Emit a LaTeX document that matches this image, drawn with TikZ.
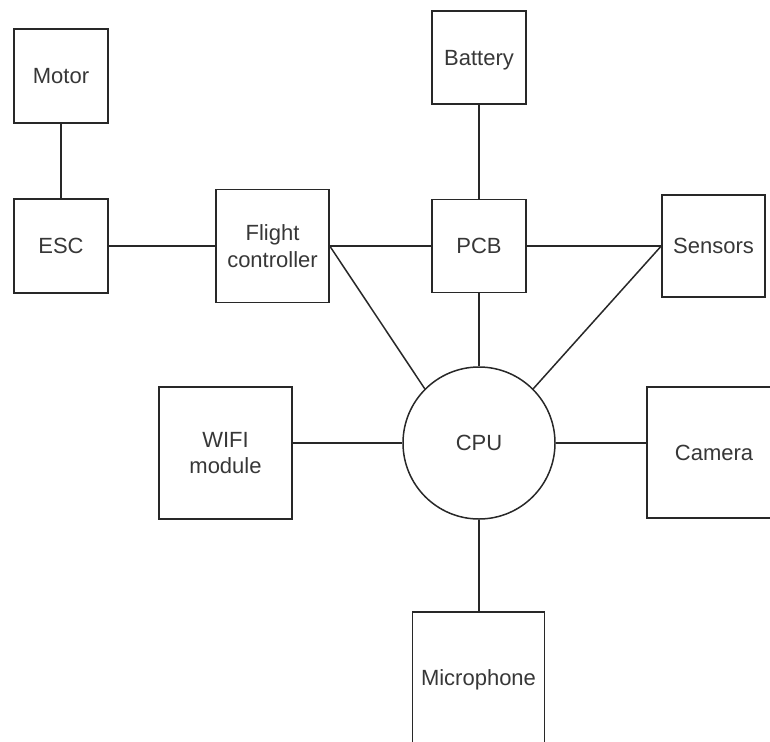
\documentclass[tikz,border=0pt]{standalone}
\usepackage{fontspec}
\setmainfont{Liberation Sans}
\definecolor{linecol}{RGB}{40,40,40}
\definecolor{textcol}{RGB}{55,55,55}
\tikzset{
  blk/.style={draw=linecol, line width=1.5pt, rectangle, inner sep=0pt, align=center,
    text=textcol, text depth=0pt, font=\fontsize{22}{26.4}\selectfont},
  cpu/.style={draw=linecol, line width=1.5pt, circle, inner sep=0pt, minimum size=152pt,
    text=textcol, font=\fontsize{22}{26.4}\selectfont},
  link/.style={draw=linecol, line width=1.5pt}
}
\begin{document}
\begin{tikzpicture}[x=1pt,y=-1pt]
\useasboundingbox (0,0) rectangle (770,741);
\clip (0,0) rectangle (770,741);
\node[blk, minimum width=94pt, minimum height=94pt] (motor) at (61,76) {Motor};
\node[blk, minimum width=94pt, minimum height=94pt] (esc) at (61,246) {ESC};
\node[blk, minimum width=113pt, minimum height=113pt] (fc) at (272.5,246) {Flight\\controller};
\node[blk, minimum width=94pt, minimum height=93pt] (battery) at (479,57.5) {Battery};
\node[blk, minimum width=94pt, minimum height=93pt] (pcb) at (479,246) {PCB};
\node[blk, minimum width=103pt, minimum height=102pt] (sensors) at (713.5,246) {Sensors};
\node[cpu] (cpu) at (479,443) {CPU};
\node[blk, minimum width=133pt, minimum height=132pt] (wifi) at (225.5,453) {WIFI\\module};
\node[blk, minimum width=134pt, minimum height=131pt] (camera) at (714,452.5) {Camera};
\node[blk, minimum width=132pt, minimum height=132pt] (mic) at (478.5,678) {Microphone};
\draw[link] (motor) -- (esc);
\draw[link] (esc) -- (fc);
\draw[link] (fc.east) -- (pcb.west);
\draw[link] (battery) -- (pcb);
\draw[link] (pcb) -- (sensors);
\draw[link] (pcb) -- (cpu);
\draw[link] (fc.east) -- (cpu.135);
\draw[link] (sensors.west) -- (cpu.45);
\draw[link] (wifi.east |- cpu.west) -- (cpu.west);
\draw[link] (cpu.east) -- (camera.west |- cpu.east);
\draw[link] (cpu.south) -- (mic.north -| cpu.south);
\end{tikzpicture}
\end{document}
